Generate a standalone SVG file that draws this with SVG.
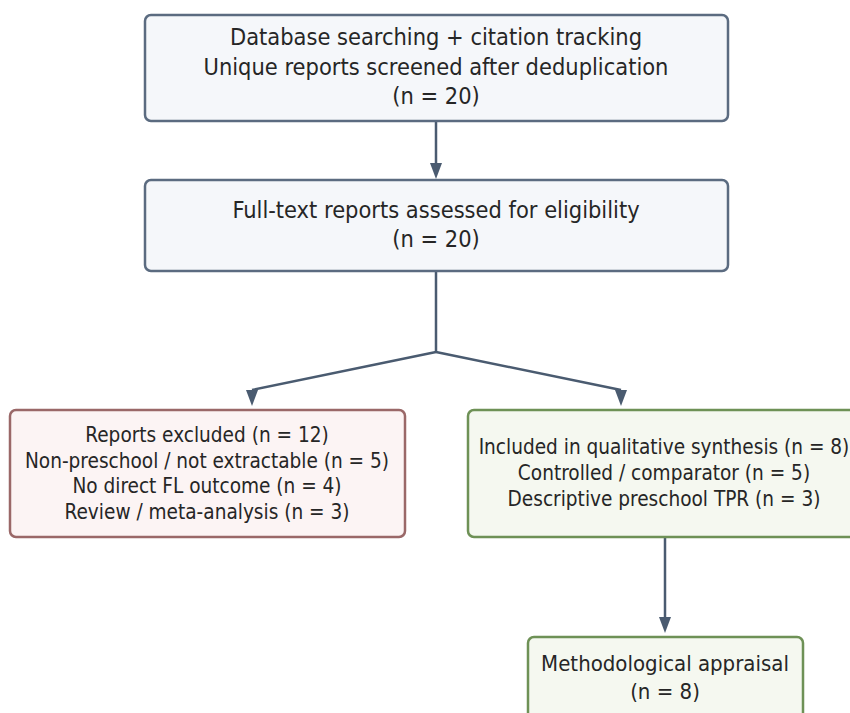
<svg xmlns="http://www.w3.org/2000/svg" width="850" height="713" viewBox="0 0 850 713">
<defs>
<style>
.t{font-family:"DejaVu Sans Condensed","DejaVu Sans",sans-serif;fill:#262626;text-anchor:middle}
.l{font-size:23.4px}
.s{font-size:20.6px}
.m{font-size:22px}
.n{fill:#f5f7fa;stroke:#5b6b80;stroke-width:2.5}
.r{fill:#fcf4f4;stroke:#9a6868;stroke-width:2.5}
.g{fill:#f5f8f0;stroke:#6e9156;stroke-width:2.5}
.c{stroke:#4a5b70;stroke-width:2.5;fill:none}
.a{fill:#4a5b70}
</style>
</defs>
<rect width="850" height="713" fill="#fff"/>
<g id="connectors">
<line class="c" x1="436" y1="121" x2="436" y2="163"/>
<path class="a" d="M430,163 L442,163 L436,179 Z"/>
<polyline class="c" points="436,271 436,352"/>
<line class="c" x1="436" y1="352" x2="252" y2="390"/>
<line class="c" x1="436" y1="352" x2="621" y2="390"/>
<path class="a" d="M246,390 L258,390 L252,406 Z"/>
<path class="a" d="M615,390 L627,390 L621,406 Z"/>
<line class="c" x1="665" y1="537" x2="665" y2="617"/>
<path class="a" d="M659,617 L671,617 L665,633 Z"/>
</g>
<g id="n1">
<rect class="n" x="145" y="15" width="583" height="106" rx="6"/>
<text class="t l" x="436" y="45">Database searching + citation tracking</text>
<text class="t l" x="436" y="74.5">Unique reports screened after deduplication</text>
<text class="t l" x="436" y="104">(n = 20)</text>
</g>
<g id="n2">
<rect class="n" x="145" y="180" width="583" height="91" rx="6"/>
<text class="t l" x="436" y="218">Full-text reports assessed for eligibility</text>
<text class="t l" x="436" y="247">(n = 20)</text>
</g>
<g id="excluded">
<rect class="r" x="10" y="410" width="395" height="127" rx="6"/>
<text class="t s" x="207" y="442">Reports excluded (n = 12)</text>
<text class="t s" x="207" y="467.5">Non-preschool / not extractable (n = 5)</text>
<text class="t s" x="207" y="493">No direct FL outcome (n = 4)</text>
<text class="t s" x="207" y="518.5">Review / meta-analysis (n = 3)</text>
</g>
<g id="included">
<rect class="g" x="468" y="410" width="394" height="127" rx="6"/>
<text class="t s" x="664" y="454">Included in qualitative synthesis (n = 8)</text>
<text class="t s" x="664" y="480">Controlled / comparator (n = 5)</text>
<text class="t s" x="664" y="506">Descriptive preschool TPR (n = 3)</text>
</g>
<g id="appraisal">
<rect class="g" x="528" y="637" width="275" height="90" rx="6"/>
<text class="t m" x="665" y="671">Methodological appraisal</text>
<text class="t m" x="665" y="699">(n = 8)</text>
</g>
</svg>
